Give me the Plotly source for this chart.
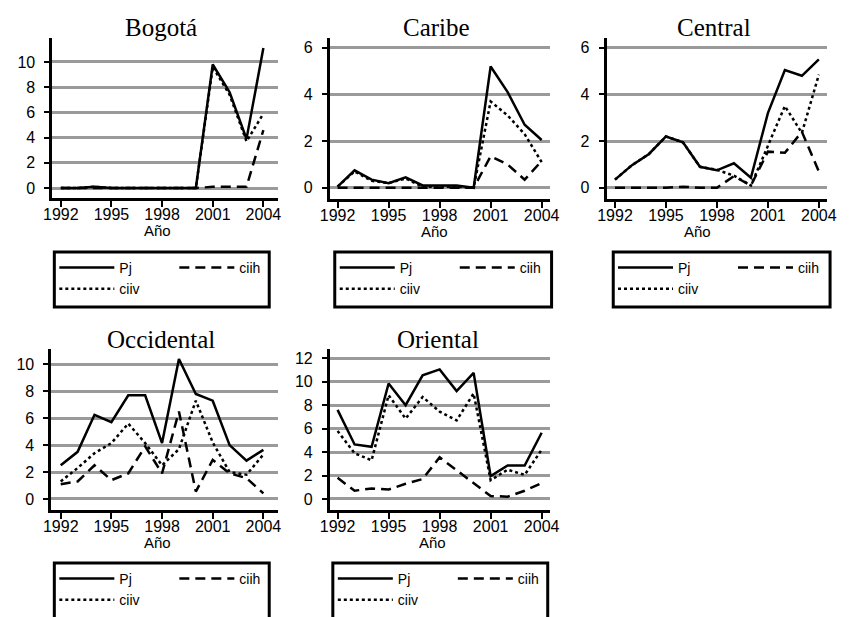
import plotly.graph_objects as go

# Years on the horizontal axis
years = list(range(1992, 2005))
x_ticks = [1992, 1995, 1998, 2001, 2004]

# Bogotá
bogota_pj = [0, 0, 0.1, 0, 0, 0, 0, 0, 0, 9.8, 7.6, 3.9, 11.1]
bogota_ciih = [0, 0, 0, 0, 0, 0, 0, 0, 0, 0.1, 0.1, 0.1, 4.6]
bogota_ciiv = [0, 0, 0.1, 0, 0, 0, 0, 0, 0, 9.6, 7.4, 3.7, 5.9]

# Caribe
caribe_pj = [0.05, 0.75, 0.35, 0.2, 0.45, 0.1, 0.1, 0.1, 0.0, 5.2, 4.1, 2.7, 2.05]
caribe_ciih = [0, 0, 0, 0, 0, 0, 0, 0, 0, 1.35, 1.0, 0.35, 1.15]
caribe_ciiv = [0.05, 0.7, 0.3, 0.2, 0.4, 0.05, 0.05, 0.05, 0.0, 3.7, 3.1, 2.3, 1.1]

# Central
central_pj = [0.35, 0.97, 1.45, 2.2, 1.95, 0.9, 0.75, 1.05, 0.43, 3.2, 5.05, 4.8, 5.5]
central_ciih = [0, 0, 0, 0, 0.05, 0, 0, 0.5, 0.1, 1.55, 1.5, 2.4, 0.7]
central_ciiv = [0.35, 0.97, 1.45, 2.2, 1.95, 0.9, 0.77, 0.52, 0.1, 1.8, 3.5, 2.35, 4.85]

# Occidental
occidental_pj = [2.5, 3.5, 6.25, 5.7, 7.7, 7.7, 4.15, 10.4, 7.8, 7.3, 4.0, 2.85, 3.65]
occidental_ciih = [1.1, 1.3, 2.5, 1.4, 1.9, 3.9, 1.9, 6.5, 0.55, 2.9, 1.9, 1.55, 0.42]
occidental_ciiv = [1.3, 2.3, 3.4, 4.15, 5.6, 4.15, 2.5, 3.7, 7.3, 4.2, 2.0, 1.8, 3.3]

# Oriental
oriental_pj = [7.6, 4.65, 4.45, 9.85, 8.0, 10.55, 11.05, 9.2, 10.75, 1.95, 2.85, 2.85, 5.65]
oriental_ciih = [1.8, 0.7, 0.9, 0.8, 1.3, 1.7, 3.55, 2.45, 1.4, 0.25, 0.2, 0.7, 1.35]
oriental_ciiv = [5.8, 3.9, 3.3, 8.85, 6.85, 8.7, 7.45, 6.7, 9.0, 1.6, 2.5, 2.05, 4.2]

W, H = 853, 617


def fx(px):
    return px / W


def fy(py):
    return 1 - py / H


# Panel geometry in pixels: plot box, axis ranges, y ticks, legend frame,
# and horizontal centres of the panel title and the x-axis label
panels = [
    dict(name="Bogotá", pj=bogota_pj, ciih=bogota_ciih, ciiv=bogota_ciiv,
         box=(44, 278, 38, 198), xr=[1991.5, 2004.86], yr=[-0.79, 11.9],
         yt=[0, 2, 4, 6, 8, 10], leg=(46, 269, 252, 307), tx=157, ax=153),
    dict(name="Caribe", pj=caribe_pj, ciih=caribe_ciih, ciiv=caribe_ciiv,
         box=(332, 560, 38, 199), xr=[1991.55, 2004.47], yr=[-0.48, 6.42],
         yt=[0, 2, 4, 6], leg=(337, 562, 252, 307), tx=443, ax=440),
    dict(name="Central", pj=central_pj, ciih=central_ciih, ciiv=central_ciiv,
         box=(619, 848, 38, 199), xr=[1991.5, 2004.49], yr=[-0.48, 6.42],
         yt=[0, 2, 4, 6], leg=(626, 851, 252, 307), tx=731, ax=713),
    dict(name="Occidental", pj=occidental_pj, ciih=occidental_ciih, ciiv=occidental_ciiv,
         box=(43, 278, 349, 510), xr=[1991.45, 2004.86], yr=[-0.82, 11.14],
         yt=[0, 2, 4, 6, 8, 10], leg=(46, 269, 563, 620), tx=157, ax=153),
    dict(name="Oriental", pj=oriental_pj, ciih=oriental_ciih, ciiv=oriental_ciiv,
         box=(332, 560, 349, 510), xr=[1991.55, 2004.47], yr=[-0.94, 12.79],
         yt=[0, 2, 4, 6, 8, 10, 12], leg=(335, 558, 563, 620), tx=444, ax=438),
]

fig = go.Figure()
tick_font = dict(family="Liberation Sans, Arial, sans-serif", size=16, color="black")
label_font = dict(family="Liberation Sans, Arial, sans-serif", size=15, color="black")
title_font = dict(family="Liberation Serif, Times New Roman, serif", size=25, color="black")

annotations = []
shapes = []
for i, p in enumerate(panels, start=1):
    sfx = "" if i == 1 else str(i)
    xa, ya = "x" + sfx, "y" + sfx
    leg = "legend" + sfx
    styles = [
        ("Pj", p["pj"], "solid", "a"),
        ("ciih", p["ciih"], "10px,6px", "b"),
        ("ciiv", p["ciiv"], "3px,3px", "a"),
    ]
    for label, vals, dash, grp in styles:
        fig.add_trace(go.Scatter(
            x=years, y=vals, mode="lines", name=label,
            line=dict(color="black", width=2.5, dash=dash),
            xaxis=xa, yaxis=ya, legend=leg,
            legendgroup=p["name"] + grp, hoverinfo="skip",
        ))

    x0, x1, y0, y1 = p["box"]
    fig.layout["xaxis" + sfx] = dict(
        domain=[fx(x0), fx(x1)], anchor=ya, range=p["xr"],
        tickvals=x_ticks, ticks="outside", ticklen=6, tickwidth=2, tickcolor="black",
        ticklabelstandoff=-6,
        showline=True, linewidth=3, linecolor="black", showgrid=False, zeroline=False,
        tickfont=tick_font,
    )
    fig.layout["yaxis" + sfx] = dict(
        domain=[fy(y1), fy(y0)], anchor=xa, range=p["yr"],
        tickvals=p["yt"], ticks="outside", ticklen=5, tickwidth=2, tickcolor="black",
        ticklabelstandoff=6,
        showline=True, linewidth=3, linecolor="black",
        showgrid=True, gridcolor="#9a9a9a", gridwidth=3, zeroline=False,
        tickfont=tick_font,
    )
    lx0, lx1, ly0, ly1 = p["leg"]
    fig.layout[leg] = dict(
        x=fx(lx0), y=fy(ly0), xanchor="left", yanchor="top",
        orientation="h", traceorder="grouped", tracegroupgap=0,
        borderwidth=0, bgcolor="rgba(0,0,0,0)",
        itemwidth=55, entrywidth=50,
        font=dict(family="Liberation Sans, Arial, sans-serif", size=14, color="black"),
    )
    # Frame around each legend
    shapes.append(dict(
        type="rect", xref="paper", yref="paper",
        x0=fx(lx0), x1=fx(lx1), y0=fy(ly1), y1=fy(ly0),
        line=dict(color="black", width=3), fillcolor="rgba(0,0,0,0)", layer="above",
    ))
    # Panel title
    annotations.append(dict(
        text=p["name"], xref="paper", yref="paper",
        x=fx(p["tx"]), y=fy(y0 - 10), xanchor="center", yanchor="middle",
        showarrow=False, font=title_font,
    ))
    # x-axis label
    annotations.append(dict(
        text="Año", xref="paper", yref="paper",
        x=fx(p["ax"]), y=fy(y1 + 22), xanchor="center", yanchor="top",
        showarrow=False, font=label_font,
    ))

fig.update_layout(
    width=W, height=H, margin=dict(l=0, r=0, t=0, b=0),
    paper_bgcolor="white", plot_bgcolor="white",
    annotations=annotations, shapes=shapes,
)

fig.write_html("out.html")
